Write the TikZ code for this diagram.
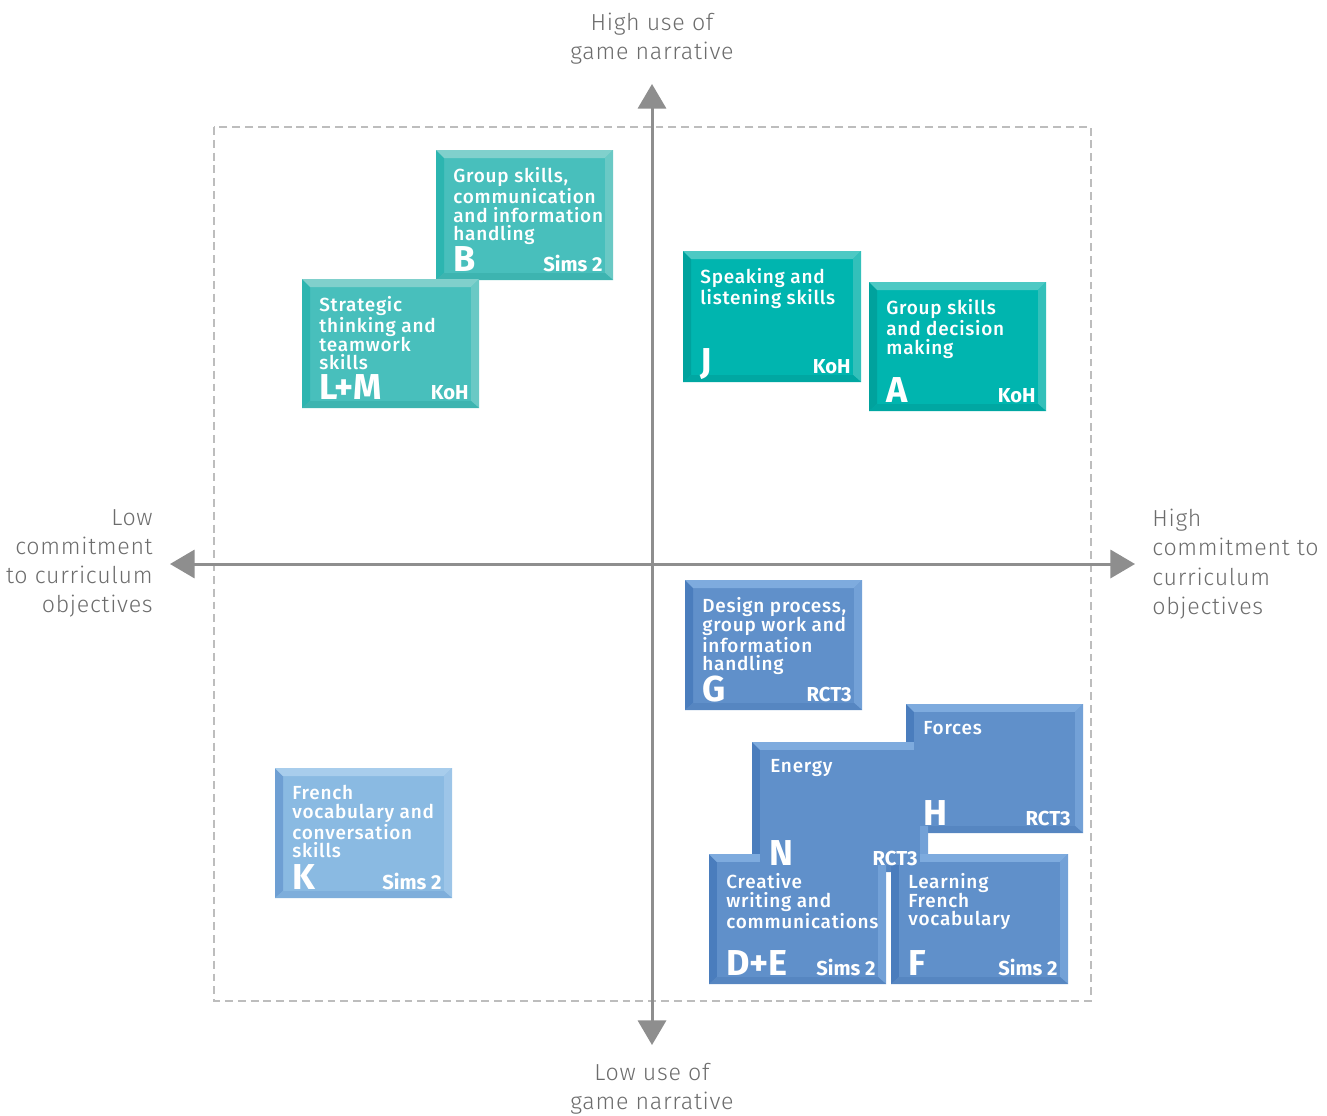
\documentclass[tikz,border=0pt]{standalone}
\usepackage{fontspec}
\setmainfont{Fira Sans}
\newfontfamily\lightfont{Fira Sans Light}
\newfontfamily\mediumfont{Fira Sans Medium}
\usetikzlibrary{arrows.meta}

\definecolor{axisgray}{HTML}{8E8E8E}
\definecolor{labelgray}{HTML}{6C6C6C}
\definecolor{framegray}{HTML}{BDBDBD}
% pale teal (B, L+M)
\definecolor{paleface}{HTML}{48BFBC}
\definecolor{paleleft}{HTML}{2CB5B0}
\definecolor{paletop}{HTML}{80D0CC}
\definecolor{paleright}{HTML}{6AC9C5}
\definecolor{palebottom}{HTML}{3DB4B0}
% strong teal (J, A)
\definecolor{tealface}{HTML}{00B5AF}
\definecolor{tealleft}{HTML}{00A29D}
\definecolor{tealtop}{HTML}{4DC9C4}
\definecolor{tealright}{HTML}{33C0BA}
\definecolor{tealbottom}{HTML}{00A7A2}
% mid blue (G, H, N, D+E, F)
\definecolor{blueface}{HTML}{6090CA}
\definecolor{blueleft}{HTML}{4A7DBD}
\definecolor{bluetop}{HTML}{7EABDE}
\definecolor{blueright}{HTML}{73A1D7}
\definecolor{bluebottom}{HTML}{5686C1}
% light blue (K)
\definecolor{skyface}{HTML}{8ABAE2}
\definecolor{skyleft}{HTML}{6E9FD3}
\definecolor{skytop}{HTML}{A8CDEC}
\definecolor{skyright}{HTML}{9DC5E8}
\definecolor{skybottom}{HTML}{7EAEDB}

% bevelled block: #1 palette, #2 name, #3 top left, #4 bottom right
\newcommand{\bevelbox}[4]{%
  \coordinate (#2-nw) at #3;
  \coordinate (#2-se) at #4;
  \path (#2-nw) ++(8,8) coordinate (#2-inw);
  \path (#2-se) ++(-8,-7) coordinate (#2-ise);
  \fill[#1face] (#2-nw) rectangle (#2-se);
  \fill[#1left] (#2-nw) -- (#2-inw) -- (#2-inw |- #2-ise) -- (#2-nw |- #2-se) -- cycle;
  \fill[#1top] (#2-nw) -- (#2-se |- #2-nw) -- (#2-ise |- #2-inw) -- (#2-inw) -- cycle;
  \fill[#1right] (#2-se |- #2-nw) -- (#2-se) -- (#2-ise) -- (#2-ise |- #2-inw) -- cycle;
  \fill[#1bottom] (#2-nw |- #2-se) -- (#2-se) -- (#2-ise) -- (#2-inw |- #2-ise) -- cycle;
}
% skill text, big letter and game name of a block
\newcommand{\boxlabels}[4]{%
  \path (#1-nw) ++(17,17) node[boxtext] (#1-text) {#2};
  \path (#1-nw |- #1-se) ++(17,-9) node[boxletter] (#1-letter) {#3};
  \path (#1-se) ++(-10,-9) node[boxgame] (#1-game) {#4};
}

\tikzset{
  boxtext/.style={text=white, align=left, inner sep=0pt, anchor=north west,
    font=\mediumfont\fontsize{10.8}{10.6}\selectfont\addfontfeatures{LetterSpace=4}},
  boxletter/.style={text=white, inner sep=0pt, anchor=base west,
    font=\fontsize{20.5}{20}\selectfont\bfseries},
  boxgame/.style={text=white, inner sep=0pt, anchor=base east,
    font=\fontsize{11.5}{12}\selectfont\bfseries},
  axislabel/.style={text=labelgray, inner sep=0pt,
    font=\lightfont\fontsize{13.2}{16.6}\selectfont\addfontfeatures{LetterSpace=3}},
  axis/.style={axisgray, line width=1.7pt,
    {Triangle[length=14pt, width=16pt]}-{Triangle[length=14pt, width=16pt]}},
}

\begin{document}
\begin{tikzpicture}[x=0.02cm, y=-0.02cm]
\useasboundingbox (0,0) rectangle (1327,1115);

% dashed frame
\draw[framegray, line width=0.85pt, dash pattern=on 4.5pt off 2.8pt] (214,127) rectangle (1091,1001);

% axes
\coordinate (ytop) at (652,84);
\coordinate (ybot) at (652,1045);
\coordinate (xleft) at (170,564);
\coordinate (xright) at (1135,564);
\draw[axis] (ybot) -- (ytop);
\draw[axis] (xleft) -- (xright);

\node[axislabel, align=center, anchor=north] (toplabel) at (652,13) {High use of\\game narrative};
\node[axislabel, align=center, anchor=north] (botlabel) at (652,1063) {Low use of\\game narrative};
\node[axislabel, align=right, anchor=north east] (leftlabel) at (153,509) {Low\\commitment\\to curriculum\\objectives};
\node[axislabel, align=left, anchor=north west] (rightlabel) at (1152,509) {High\\commitment to\\curriculum\\objectives};

% upper half
\bevelbox{pale}{B}{(436,150)}{(613,280)}
\boxlabels{B}{Group skills,\\communication\\and information\\handling}{B}{Sims 2}
\bevelbox{pale}{LM}{(302,279)}{(479,408)}
\boxlabels{LM}{Strategic\\thinking and\\teamwork\\skills}{L+M}{KoH}
\bevelbox{teal}{J}{(683,251)}{(861,382)}
\boxlabels{J}{Speaking and\\listening skills}{J}{KoH}
\bevelbox{teal}{A}{(869,282)}{(1046,411)}
\boxlabels{A}{Group skills\\and decision\\making}{A}{KoH}

% lower half
\bevelbox{blue}{G}{(685,580)}{(862,710)}
\boxlabels{G}{Design process,\\group work and\\information\\handling}{G}{RCT3}
\bevelbox{sky}{K}{(275,768)}{(452,898)}
\boxlabels{K}{French\\vocabulary and\\conversation\\skills}{K}{Sims 2}

% joined cluster
\bevelbox{blue}{H}{(906,704)}{(1083,833)}
\bevelbox{blue}{N}{(752,742)}{(928,872)}
\bevelbox{blue}{DE}{(709,854)}{(886,984)}
\bevelbox{blue}{F}{(891,854)}{(1068,984)}
\foreach \b in {H,N,DE,F}
  \fill[blueface] (\b-inw) rectangle (\b-ise);

\path (H-nw) ++(17,17) node[boxtext] (H-text) {Forces};
\path (H-nw |- H-se) ++(17,-8) node[boxletter] (H-letter) {H};
\path (H-se) ++(-12,-8) node[boxgame] (H-game) {RCT3};
\path (N-nw) ++(18,17) node[boxtext] (N-text) {Energy};
\path (N-nw |- N-se) ++(17,-7) node[boxletter] (N-letter) {N};
\path (N-se) ++(-10,-7) node[boxgame] (N-game) {RCT3};
\path (DE-nw) ++(17,19) node[boxtext] (DE-text) {Creative\\writing and\\communications};
\path (DE-nw |- DE-se) ++(17,-9) node[boxletter] (DE-letter) {D+E};
\path (DE-se) ++(-10,-9) node[boxgame] (DE-game) {Sims 2};
\path (F-nw) ++(17,19) node[boxtext] (F-text) {Learning\\French\\vocabulary};
\path (F-nw |- F-se) ++(17,-9) node[boxletter] (F-letter) {F};
\path (F-se) ++(-10,-9) node[boxgame] (F-game) {Sims 2};
\end{tikzpicture}
\end{document}
